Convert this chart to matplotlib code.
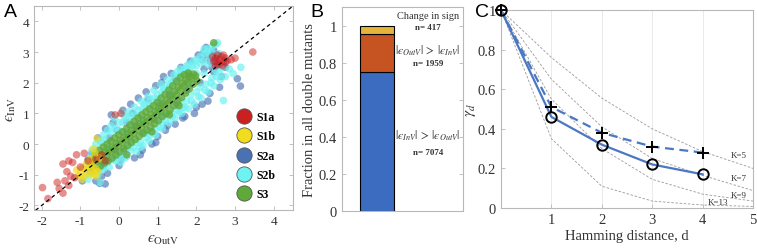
import matplotlib
matplotlib.use('Agg')
import matplotlib.pyplot as plt
from matplotlib.lines import Line2D

plt.rcParams['font.family'] = ['Liberation Serif', 'DejaVu Serif']
plt.rcParams['mathtext.fontset'] = 'stix'
plt.rcParams['axes.unicode_minus'] = False

# ---------------- Panel A data (epsilon OutV, epsilon InV) ----------------
s3_pts = [(-0.68,-0.85),(-0.72,-0.66),(-0.66,-0.5),
 (-0.58,-0.8),(-0.62,-0.6),(-0.57,-0.44),(-0.61,-0.3),
 (-0.48,-0.72),(-0.52,-0.52),(-0.47,-0.36),(-0.51,-0.2),
 (-0.38,-0.62),(-0.42,-0.44),(-0.37,-0.26),(-0.41,-0.1),
 (-0.28,-0.55),(-0.32,-0.36),(-0.27,-0.2),(-0.31,0.0),
 (-0.18,-0.46),(-0.22,-0.26),(-0.17,-0.1),(-0.21,0.1),
 (-0.08,-0.36),(-0.12,-0.15),(-0.07,0.02),(-0.11,0.2),
 (0.02,-0.26),(-0.02,-0.05),(0.03,0.12),(-0.01,0.3),
 (0.12,-0.15),(0.08,0.05),(0.13,0.22),(0.09,0.4),
 (0.22,-0.05),(0.18,0.15),(0.23,0.32),(0.19,0.5),
 (0.32,0.05),(0.28,0.25),(0.33,0.44),(0.29,0.62),
 (0.42,0.15),(0.38,0.35),(0.43,0.55),(0.39,0.74),
 (0.52,0.25),(0.48,0.46),(0.53,0.66),(0.49,0.85),
 (0.62,0.35),(0.58,0.56),(0.63,0.76),(0.59,0.95),
 (0.72,0.45),(0.68,0.66),(0.73,0.86),(0.69,1.05),
 (0.82,0.55),(0.78,0.76),(0.83,0.96),(0.79,1.15),
 (0.92,0.66),(0.88,0.86),(0.93,1.06),(0.89,1.25),
 (1.02,0.76),(0.98,0.96),(1.03,1.16),(0.99,1.36),
 (1.12,0.9),(1.08,1.1),(1.13,1.3),(1.09,1.5),
 (1.22,1.0),(1.18,1.22),(1.23,1.42),(1.19,1.62),
 (1.32,1.12),(1.28,1.35),(1.33,1.56),(1.29,1.76),
 (1.42,1.25),(1.38,1.47),(1.43,1.7),(1.39,1.9),
 (1.52,1.4),(1.48,1.62),(1.53,1.85),(1.49,2.05),
 (1.62,1.52),(1.58,1.76),(1.63,1.97),(1.59,2.18),
 (1.72,1.66),(1.68,1.9),(1.73,2.1),(1.69,2.26),
 (1.82,1.8),(1.78,2.02),(1.83,2.2),(1.79,2.32),
 (1.92,1.95),(1.88,2.15),(1.93,2.28),
 (2.02,2.06),(1.98,2.22),
 (2.45,3.3),(0.85,0.4),(1.3,0.95),(0.2,-0.35),(1.55,1.25)]

s2b_pts = [(-0.9,-1.05),(-0.85,-0.7),(-0.8,-1.15),(-0.75,-0.45),(-0.7,-0.95),
 (-0.62,-0.2),(-0.55,-1.0),(-0.5,0.1),(-0.45,-0.85),(-0.4,0.3),(-0.38,-0.55),
 (-0.3,0.45),(-0.25,-0.75),(-0.2,0.6),(-0.15,-0.5),(-0.12,0.85),(-0.05,-0.45),
 (0.0,0.7),(0.05,-0.6),(0.08,1.0),(0.12,-0.3),(0.15,0.85),(0.2,-0.4),
 (0.25,1.05),(0.3,-0.2),(0.32,0.9),(0.38,-0.1),(0.4,1.2),(0.45,-0.25),
 (0.5,1.1),(0.55,0.05),(0.58,1.4),(0.62,-0.05),(0.65,1.3),(0.7,0.2),
 (0.75,1.55),(0.78,0.1),(0.82,1.45),(0.88,0.35),(0.9,1.75),(0.95,0.3),
 (1.0,1.6),(1.05,0.55),(1.08,1.95),(1.12,0.5),(1.15,1.8),(1.2,0.75),
 (1.25,2.1),(1.3,0.7),(1.32,1.95),(1.38,0.9),(1.42,2.25),(1.45,0.85),
 (1.5,2.15),(1.55,1.05),(1.58,2.45),(1.62,1.0),(1.65,2.35),(1.7,1.2),
 (1.75,2.55),(1.8,1.15),(1.82,2.45),(1.88,1.4),(1.92,2.7),(1.95,1.3),
 (2.0,2.55),(2.05,1.55),(2.1,2.85),(2.12,1.5),(2.18,2.7),(2.22,1.75),
 (2.28,3.0),(2.3,1.7),(2.35,2.85),(2.38,2.0),(2.42,3.2),(2.45,1.9),
 (2.5,3.25),(2.52,2.2),(2.58,2.95),(2.62,2.1),(2.65,2.5),(2.7,1.42),
 (2.85,2.45),(3.15,2.5),(2.95,2.3),(2.2,3.1),(2.55,3.3),
 (-0.3,-0.1),(0.2,0.4),(0.6,0.8),(1.0,1.1),(1.4,1.5),(1.8,1.9),
 (2.2,2.3),(2.3,2.6),(2.0,2.3),(1.6,1.4),(1.1,0.9),(0.3,0.1),(-0.49,-1.25),
 (-0.7,-0.2),(-0.6,0.0),(-0.45,0.05),(-0.35,0.15),(-0.2,0.35),(-0.1,0.5),
 (0.0,0.45),(0.1,0.7),(0.2,0.9),(0.3,0.7),(0.4,0.95),(0.5,0.9),(0.6,1.15),
 (0.7,1.3),(0.8,1.25),(0.9,1.5),(1.0,1.45),(1.1,1.7),(1.2,1.85),(1.3,1.85),
 (1.4,2.05),(1.5,2.35),(1.6,2.3),(1.7,2.45),(1.8,2.6),(1.9,2.55),(2.0,2.75),
 (2.1,2.65),(2.2,2.95),(2.3,3.1),(2.4,3.0),
 (-0.6,-0.95),(-0.4,-0.8),(-0.3,-0.6),(-0.1,-0.55),(0.0,-0.35),(0.15,-0.45),
 (0.25,-0.1),(0.45,0.05),(0.55,-0.1),(0.7,0.4),(0.8,0.3),(0.95,0.5),(1.1,0.7),
 (1.2,0.95),(1.35,1.0),(1.5,1.1),(1.65,1.2),(1.75,1.4),(1.85,1.6),(2.0,1.7),
 (2.1,1.85),(2.25,1.95),(2.4,2.15),(2.5,2.4),(2.6,2.3),(2.75,2.2)]

s2a_pts = [(-0.95,-1.2),(-0.6,-1.2),(-0.36,-1.3),(-0.5,-1.28),(-0.7,-0.3),
 (-0.55,0.2),(-0.35,0.5),(-0.2,0.95),(-0.3,-0.95),(0.0,-0.7),(0.1,1.1),
 (0.3,1.3),(0.4,-0.45),(0.6,-0.2),(0.5,1.5),(0.7,1.7),(0.85,0.0),(1.0,0.25),
 (0.95,1.9),(1.15,2.2),(1.2,0.45),(1.35,2.3),(1.45,0.65),(1.6,2.5),(1.7,0.9),
 (1.85,2.7),(1.95,1.0),(2.05,2.9),(2.15,1.3),(2.25,3.15),(2.3,2.9),(2.35,2.7),
 (2.4,2.9),(2.45,3.05),(2.4,2.5),(2.5,2.7),(2.55,2.55),(2.3,1.4),(2.6,1.85),
 (3.06,2.13),(3.14,1.89),(2.75,2.5),(-0.1,-0.2),(0.45,0.6),(0.9,0.8),
 (1.3,1.6),(1.75,1.75),(2.1,2.0),(-0.4,-0.7),(0.2,0.7),(-0.05,0.45),
 (1.5,1.3),(2.2,2.45),(0.15,-0.2),(-0.75,-0.9),(-0.25,0.2),(0.65,0.35),(1.05,1.3),
 (-0.8,-0.5),(-0.45,-1.05),(-0.15,0.7),(0.05,-0.5),(0.35,1.0),(0.55,-0.35),
 (0.75,1.45),(0.95,0.05),(1.1,2.0),(1.25,0.6),(1.45,2.1),(1.65,0.85),(1.8,2.3),
 (2.0,1.2),(2.15,2.75),(2.35,1.65),(2.55,2.9),(2.45,2.35),(2.65,2.2),(2.2,3.0)]

s1b_pts = [(-1.1,-0.85),(-1.0,-0.95),(-0.95,-0.8),(-0.9,-1.05),(-0.85,-0.9),
 (-0.8,-0.75),(-0.75,-1.0),(-0.7,-0.85),(-0.65,-0.95),(-0.6,-0.8),(-1.05,-1.05),
 (-0.95,-1.15),(-0.7,-0.65),(-0.6,-1.05),(-0.55,-0.9),(-0.85,-0.65),
 (-0.66,-0.15),(-0.57,0.18),(-0.62,-0.3),(-0.5,-0.45),(-0.75,-0.5)]

s1a_pts = [(2.45,2.7),(2.5,2.8),(2.55,2.65),(2.6,2.75),(2.65,2.85),(2.7,2.7),
 (2.75,2.8),(2.6,2.6),(2.5,2.55),(2.7,2.9),(2.8,2.72),(2.55,2.9),(2.9,2.75),
 (3.0,2.8),(2.68,2.55),(2.42,2.85),(3.46,3.0),(2.75,2.65),
 (-1.98,-1.42),(-1.84,-1.78),(-1.6,-1.25),(-1.45,-1.6),(-1.4,-1.2),(-1.3,-1.35),
 (-1.55,-1.45),(-1.25,-1.05),(-1.2,-0.6),(-1.1,-0.35),(-1.3,-0.55),(-1.45,-0.65),
 (-1.0,-0.75),(-0.8,-0.55),(-0.6,-0.5),(-0.45,-0.35),(-1.35,-0.9),(-1.15,-1.1),
 (-0.1,0.95),(0.05,1.0),(-0.35,-0.55),(-0.9,-0.3)]

series_labels = ['S1a', 'S1b', 'S2a', 'S2b', 'S3']
series_colors = ['#cc2020', '#f2dc1e', '#4a72b2', '#6ff2f2', '#5fa83a']

# ---------------- Panel B data ----------------
n_in = 7074
n_out = 1959
n_sign = 417

# ---------------- Panel C data ----------------
hamming_d = [0, 1, 2, 3, 4]
gamma_circle = [1.0, 0.46, 0.32, 0.22, 0.17]
gamma_plus = [1.0, 0.51, 0.38, 0.31, 0.28]
k_d = [0, 1, 2, 3, 4, 5]
k_curves = {
    'K=5': [1.0, 0.76, 0.555, 0.40, 0.285, 0.20],
    'K=7': [1.0, 0.65, 0.41, 0.25, 0.165, 0.088],
    'K=9': [1.0, 0.55, 0.30, 0.145, 0.07, 0.035],
    'K=13': [1.0, 0.35, 0.11, 0.035, 0.015, 0.008],
}

SPINE = '#b8b8b8'
LAB = '#333333'
EPS = '\u03f5'


def style(ax):
    for s in ax.spines.values():
        s.set_color(SPINE)
        s.set_linewidth(0.8)
    ax.tick_params(direction='in', top=True, right=True, color=SPINE,
                   labelcolor=LAB, labelsize=9.5, length=3, width=0.6)


fig = plt.figure(figsize=(7.57, 2.53), dpi=100)

# ---------------- A ----------------
axA = fig.add_axes([34/757, 1-211/253, 259/757, 204/253])
style(axA)
order = [2, 3, 4, 1, 0]
all_pts = [s1a_pts, s1b_pts, s2a_pts, s2b_pts, s3_pts]
alphas = [0.5, 0.65, 0.65, 0.7, 0.8]
for i in order:
    xs = [p[0] for p in all_pts[i]]
    ys = [p[1] for p in all_pts[i]]
    axA.scatter(xs, ys, s=30, color=series_colors[i], alpha=alphas[i],
                edgecolors='none', zorder=2)
axA.plot([-2.3, 4.6], [-2.3, 4.6], ls=(0, (3, 2.5)), color='black', lw=0.9, zorder=3)
axA.set_xlim(-2.2, 4.5)
axA.set_ylim(-2.15, 4.5)
axA.set_xticks([-2, -1, 0, 1, 2, 3, 4])
axA.set_yticks([-2, -1, 0, 1, 2, 3, 4])
handles = [Line2D([], [], ls='none', marker='o', markersize=11,
                  markerfacecolor=c, markeredgecolor='#555555', markeredgewidth=0.6)
           for c in series_colors]
leg = axA.legend(handles, series_labels, loc='lower right', bbox_to_anchor=(0.975, -0.005),
                 frameon=False, labelspacing=0.62, handletextpad=0.5,
                 handlelength=1.2, prop={'weight': 'bold', 'size': 8.5})
axA.set_xlabel('$' + EPS + r'_{\rm OutV}$', fontsize=11, color=LAB, labelpad=4)
axA.set_ylabel('$' + EPS + r'_{\rm InV}$', fontsize=11, color=LAB, labelpad=0)

# ---------------- B ----------------
axB = fig.add_axes([342/757, 1-212/253, 121/757, 204/253])
style(axB)
total = n_in + n_out + n_sign
f_in = n_in / total
f_out = n_out / total
f_sign = n_sign / total
bx = 0.29
bw = 0.28
axB.bar(bx, f_in, width=bw, color='#3b6cc0', edgecolor='black', lw=0.8)
axB.bar(bx, f_out, width=bw, bottom=f_in, color='#c65423', edgecolor='black', lw=0.8)
axB.bar(bx, f_sign, width=bw, bottom=f_in+f_out, color='#e5b43a', edgecolor='black', lw=0.8)
axB.set_xlim(0, 1)
axB.set_ylim(0, 1.1)
axB.set_xticks([])
axB.set_yticks([0, 0.2, 0.4, 0.6, 0.8, 1.0])
axB.set_yticklabels(['0', '0.2', '0.4', '0.6', '0.8', '1'])
axB.tick_params(labelsize=10.5)
axB.set_ylabel('Fraction in all double mutants', fontsize=10.5, color=LAB, labelpad=2)
tx = 0.71
axB.text(tx, 1.053, 'Change in sign', ha='center', va='center', fontsize=7.5, color=LAB)
axB.text(tx, 0.99, f'n= {n_sign}', ha='center', va='center', fontsize=6.5,
         weight='bold', color=LAB)
axB.text(tx, 0.87, '$|' + EPS + r'_{OutV}|\,>\,|' + EPS + r'_{InV}|$', ha='center',
         va='center', fontsize=8.5, color=LAB)
axB.text(tx, 0.80, f'n= {n_out}', ha='center', va='center', fontsize=6.5,
         weight='bold', color=LAB)
axB.text(tx, 0.41, '$|' + EPS + r'_{InV}|\,>\,|' + EPS + r'_{OutV}|$', ha='center',
         va='center', fontsize=8.5, color=LAB)
axB.text(tx, 0.32, f'n= {n_in}', ha='center', va='center', fontsize=6.5,
         weight='bold', color=LAB)

# ---------------- C ----------------
axC = fig.add_axes([501/757, 1-209/253, 252/757, 198/253])
style(axC)
axC.set_xlim(0, 5)
axC.set_ylim(0, 1)
axC.set_xticks([1, 2, 3, 4, 5])
axC.set_yticks([0, 0.2, 0.4, 0.6, 0.8, 1.0])
axC.set_yticklabels(['0', '0.2', '0.4', '0.6', '0.8', '1'])
axC.tick_params(labelsize=10.5, top=False, right=False)
axC.grid(axis='x', color='#e6e6e6', lw=0.6)
axC.set_axisbelow(True)
for lab, vals in k_curves.items():
    axC.plot(k_d, vals, ls=(0, (3, 2)), color='#9a9a9a', lw=0.6)
label_pos = {'K=5': (4.55, 0.27), 'K=7': (4.55, 0.15), 'K=9': (4.55, 0.068),
             'K=13': (4.1, 0.028)}
for lab, (lx, ly) in label_pos.items():
    axC.text(lx, ly, lab, fontsize=6.5, color=LAB, ha='left', va='center')
axC.plot(hamming_d, gamma_plus, ls=(0, (4, 2.5)), color='#4a78c4', lw=1.6)
axC.plot(hamming_d, gamma_circle, ls='-', color='#4a78c4', lw=1.6)
axC.plot(hamming_d, gamma_plus, ls='none', marker='+', ms=9, mew=1.4,
         color='black', clip_on=False, zorder=5)
axC.plot(hamming_d, gamma_circle, ls='none', marker='o', ms=7.5, mew=1.4,
         mfc='none', mec='black', clip_on=False, zorder=5)
axC.set_xlabel('Hamming distance, d', fontsize=10.5, color=LAB, labelpad=2)
axC.set_ylabel(r'$\gamma_d$', fontsize=11, color=LAB, labelpad=0)

# panel letters
for lt, x in [('A', 4), ('B', 310), ('C', 475)]:
    fig.text(x/757, 1-4/253, lt, fontsize=14, family='Liberation Sans',
             ha='left', va='top')

fig.savefig('out.png', dpi=100)
